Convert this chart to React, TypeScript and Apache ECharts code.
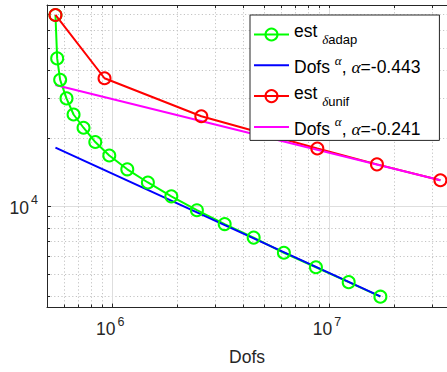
import React, { useEffect, useRef } from 'react';
import * as echarts from 'echarts';

// ---- data (log-log) ----
const adapDofs = [5.47e5, 5.57e5, 5.75e5, 6.15e5, 6.63e5, 7.37e5, 8.35e5, 9.69e5, 1.173e6, 1.46e6, 1.873e6, 2.457e6, 3.3e6, 4.49e6, 6.19e6, 8.7e6, 1.232e7, 1.725e7];
const adapEst = [69800, 44900, 36100, 29900, 25400, 22200, 19200, 16750, 14550, 12730, 11060, 9605, 8343, 7271, 6233, 5379, 4624, 3990];
const adapFitDofs = [5.47e5, 1.725e7];
const adapFitVal = [18150, 4005];
const unifDofs = [5.47e5, 9.21e5, 2.575e6, 8.83e6, 1.663e7, 3.263e7];
const unifEst = [69800, 36700, 24940, 17970, 15300, 13020];
const unifFitDofs = [5.47e5, 3.263e7];
const unifFitVal = [34300, 13020];
const adapAlpha = '-0.443';
const unifAlpha = '-0.241';

const seriesNames = ['est adap', 'Dofs fit adap', 'est unif', 'Dofs fit unif'];
const seriesColors = ['#00ff00', '#0000ff', '#ff0000', '#ff00ff'];

const xRange = [5e5, 3.5e7];
const yRange = [3571, 77240];
const xMajorTicks = [1e6, 1e7];
const xMinorTicks = [6e5, 7e5, 8e5, 9e5, 2e6, 3e6, 4e6, 5e6, 6e6, 7e6, 8e6, 9e6, 2e7, 3e7];
const yMajorTicks = [1e4];
const yMinorTicks = [4000, 5000, 6000, 7000, 8000, 9000, 2e4, 3e4, 4e4, 5e4, 6e4, 7e4];

const AX = '#262626';
const SANS = 'Liberation Sans';
const SERIF = 'Liberation Serif';
const FS = 17.5;
const lg = Math.log10;

const legendText: Record<string, string> = {
  [seriesNames[0]]: '{ma|est }{sga|δ}{sa|adap}',
  [seriesNames[1]]: `{mb|Dofs }{spb|α}{mb|, }{gb|α}{mb|=${adapAlpha}}`,
  [seriesNames[2]]: '{ma|est }{sga|δ}{sa|unif}',
  [seriesNames[3]]: `{mb|Dofs }{spb|α}{mb|, }{gb|α}{mb|=${unifAlpha}}`,
};

function pairs(xs: number[], ys: number[]) {
  return xs.map((x, i) => [x, ys[i]]);
}

export default function App() {
  const ref = useRef<HTMLDivElement>(null);
  useEffect(() => {
    if (!ref.current) return;
    const chart = echarts.init(ref.current, null, { renderer: 'svg' });
    const hiddenAxisBase = {
      axisLabel: { show: false },
      nameTextStyle: { fontSize: 0 },
    };
    const noMarker = { color: 'rgba(0,0,0,0)', borderColor: 'rgba(0,0,0,0)', borderWidth: 0, opacity: 0 };
    const option: any = {
      animation: false,
      backgroundColor: '#ffffff',
      grid: { left: 47, right: 0, top: 5, bottom: 61 },
      xAxis: [
        {
          type: 'log', logBase: 10, min: xRange[0], max: xRange[1], position: 'bottom',
          name: 'Dofs', nameLocation: 'middle', nameGap: 35,
          nameTextStyle: { fontFamily: SANS, fontSize: FS, color: AX, lineHeight: 20 },
          axisLine: { show: true, onZero: false, lineStyle: { color: AX, width: 1 } },
          axisTick: { show: true, inside: true, length: 4, lineStyle: { color: AX } },
          axisLabel: {
            show: true, margin: 11, showMinLabel: false, showMaxLabel: false,
            formatter: (v: number) => `{b|10}{s|${Math.round(lg(v))}}`,
            rich: {
              b: { fontFamily: SANS, fontSize: FS, color: AX, lineHeight: 20 },
              s: { fontFamily: SANS, fontSize: 12.5, color: AX, lineHeight: 20, padding: [0, 4, 14, 2] },
            },
          },
          splitLine: { show: true, lineStyle: { color: '#dedede', width: 1 } },
        },
        {
          type: 'value', min: lg(xRange[0]), max: lg(xRange[1]), position: 'top', ...hiddenAxisBase,
          axisLine: { show: true, onZero: false, lineStyle: { color: AX, width: 1 } },
          axisTick: { show: true, inside: true, length: 3, customValues: [...xMinorTicks, ...xMajorTicks].map(lg), lineStyle: { color: AX } },
          splitLine: { show: false },
        },
        {
          type: 'value', min: lg(xRange[0]), max: lg(xRange[1]), position: 'bottom', ...hiddenAxisBase,
          axisLine: { show: false, onZero: false },
          axisTick: { show: true, inside: true, length: 3, customValues: xMinorTicks.map(lg), lineStyle: { color: AX } },
          splitLine: { show: true, lineStyle: { color: '#c4c4c4', width: 1, type: [1.2, 2.4] } },
        },
      ],
      yAxis: [
        {
          type: 'log', logBase: 10, min: yRange[0], max: yRange[1], position: 'left',
          axisLine: { show: true, onZero: false, lineStyle: { color: AX, width: 1 } },
          axisTick: { show: true, inside: true, length: 4, lineStyle: { color: AX } },
          axisLabel: {
            show: true, margin: 9, showMinLabel: false, showMaxLabel: false,
            formatter: (v: number) => `{b|10}{s|${Math.round(lg(v))}}`,
            rich: {
              b: { fontFamily: SANS, fontSize: FS, color: AX, lineHeight: 20, padding: [3.4, 0, 0, 0] },
              s: { fontFamily: SANS, fontSize: 12.5, color: AX, lineHeight: 20, padding: [0, 0, 11.6, 2] },
            },
          },
          splitLine: { show: true, lineStyle: { color: '#dedede', width: 1 } },
        },
        {
          type: 'value', min: lg(yRange[0]), max: lg(yRange[1]), position: 'left', ...hiddenAxisBase,
          axisLine: { show: false, onZero: false },
          axisTick: { show: true, inside: true, length: 3, customValues: yMinorTicks.map(lg), lineStyle: { color: AX } },
          splitLine: { show: true, lineStyle: { color: '#c4c4c4', width: 1, type: [1.2, 2.4] } },
        },
      ],
      legend: {
        show: true, orient: 'vertical', left: 250, top: 15,
        padding: [7, 19, 2, 3], itemGap: 6.8, itemWidth: 35, itemHeight: 15,
        backgroundColor: '#ffffff', borderColor: AX, borderWidth: 1, borderRadius: 0,
        selectedMode: false,
        data: [
          { name: seriesNames[0] },
          { name: seriesNames[1], itemStyle: noMarker },
          { name: seriesNames[2] },
          { name: seriesNames[3], itemStyle: noMarker },
        ],
        formatter: (name: string) => legendText[name],
        textStyle: {
          fontFamily: SANS, fontSize: FS, color: '#000', lineHeight: 20,
          rich: {
            ma: { fontFamily: SANS, fontSize: FS, color: '#000', lineHeight: 20, padding: [0, 0, 7, 0] },
            sa: { fontFamily: SANS, fontSize: 13, color: '#000', lineHeight: 20, padding: [10, 0, 0, 0] },
            sga: { fontFamily: SERIF, fontStyle: 'italic', fontSize: 13, color: '#000', lineHeight: 20, padding: [10, 0, 0, 0] },
            mb: { fontFamily: SANS, fontSize: FS, color: '#000', lineHeight: 20, padding: [4, 0, 0, 0] },
            gb: { fontFamily: SERIF, fontStyle: 'italic', fontSize: FS, color: '#000', lineHeight: 20, padding: [4, 0, 0, 0] },
            spb: { fontFamily: SERIF, fontStyle: 'italic', fontSize: 13, color: '#000', lineHeight: 20, padding: [0, 0, 10, 0] },
          },
        },
      },
      series: [
        {
          name: seriesNames[0], type: 'line', xAxisIndex: 0, yAxisIndex: 0,
          data: pairs(adapDofs, adapEst),
          symbol: 'circle', symbolSize: 12, showSymbol: true,
          lineStyle: { color: seriesColors[0], width: 2 },
          itemStyle: { color: 'rgba(255,255,255,0)', borderColor: seriesColors[0], borderWidth: 2 },
          emphasis: { disabled: true },
        },
        {
          name: seriesNames[1], type: 'line', xAxisIndex: 0, yAxisIndex: 0,
          data: pairs(adapFitDofs, adapFitVal),
          symbol: 'none', showSymbol: false,
          lineStyle: { color: seriesColors[1], width: 2 },
          itemStyle: { color: seriesColors[1] },
          emphasis: { disabled: true },
        },
        {
          name: seriesNames[2], type: 'line', xAxisIndex: 0, yAxisIndex: 0,
          data: pairs(unifDofs, unifEst),
          symbol: 'circle', symbolSize: 12, showSymbol: true,
          lineStyle: { color: seriesColors[2], width: 2 },
          itemStyle: { color: 'rgba(255,255,255,0)', borderColor: seriesColors[2], borderWidth: 2 },
          emphasis: { disabled: true },
        },
        {
          name: seriesNames[3], type: 'line', xAxisIndex: 0, yAxisIndex: 0,
          data: pairs(unifFitDofs, unifFitVal),
          symbol: 'none', showSymbol: false,
          lineStyle: { color: seriesColors[3], width: 2 },
          itemStyle: { color: seriesColors[3] },
          emphasis: { disabled: true },
        },
      ],
    };
    chart.setOption(option);
    return () => chart.dispose();
  }, []);
  return <div ref={ref} style={{ position: 'absolute', left: 0, top: 0, width: 447, height: 372 }} />;
}
